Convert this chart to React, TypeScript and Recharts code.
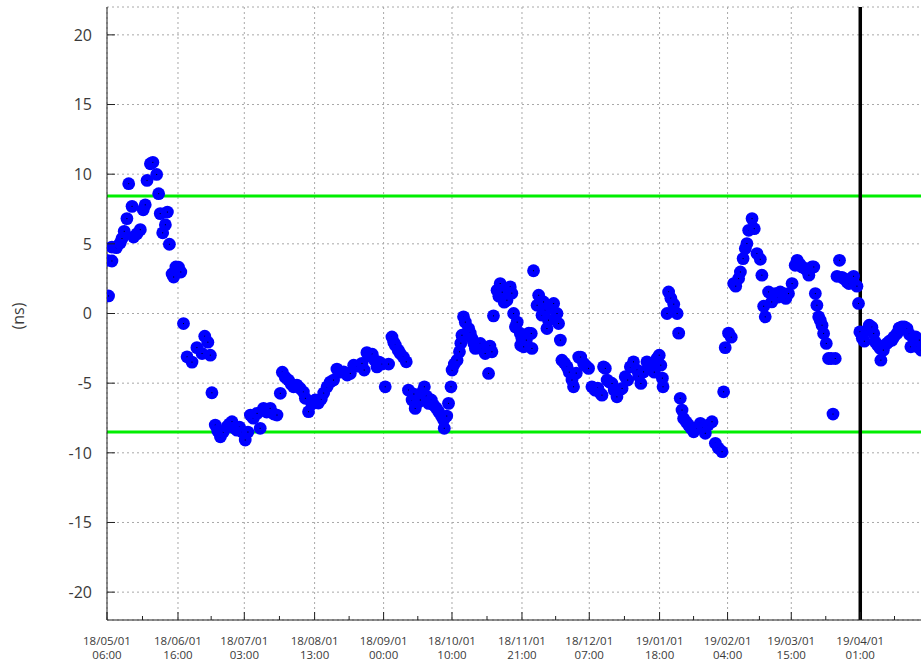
import React from 'react';
import { ScatterChart, Scatter, XAxis, YAxis, CartesianGrid, ReferenceLine } from 'recharts';

// x values are days since 18/05/01 06:00, y values are offsets in ns
const MAJOR_TICK_DAYS = [0, 31.74, 61.39, 92.82, 123.67, 154.25, 185.54, 215.63, 247.06, 277.46, 305.94, 336.79];
const MAJOR_TICK_DATE = ['18/05/01', '18/06/01', '18/07/01', '18/08/01', '18/09/01', '18/10/01', '18/11/01', '18/12/01', '19/01/01', '19/02/01', '19/03/01', '19/04/01'];
const MAJOR_TICK_TIME = ['06:00', '16:00', '03:00', '13:00', '00:00', '10:00', '21:00', '07:00', '18:00', '04:00', '15:00', '01:00'];
const MINOR_TICK_DAYS = [15.87, 46.57, 77.1, 108.25, 138.96, 169.9, 200.59, 231.35, 262.26, 291.7, 321.37, 352.1];
const TOP_TICK_DAYS = [11.45, 61.52, 111.46, 162.12, 212.19, 262.26, 312.96, 363.17];
const Y_TICKS = [-20, -15, -10, -5, 0, 5, 10, 15, 20];
const X_DOMAIN: [number, number] = [0, 366];
const Y_DOMAIN: [number, number] = [-22, 22];
const LIMIT_UPPER = 8.43;
const LIMIT_LOWER = -8.5;
const EVENT_DAY = 336.79;

const samplesMayJun: [number, number][] = [
  [0.0, 3.82], [0.7, 1.26], [2.2, 3.77], [2.2, 4.77], [4.2, 4.73], [5.9, 5.06], [6.7, 5.38], [7.7, 5.9],
  [8.9, 6.81], [9.7, 9.32], [11.2, 7.69], [11.9, 5.49], [13.4, 5.73], [14.9, 6.02], [16.2, 7.44], [17.1, 7.8],
  [17.9, 9.55], [19.4, 10.75], [20.5, 10.85], [22.2, 9.98], [23.1, 8.6], [23.8, 7.17], [24.9, 5.79], [26.1, 6.37],
  [27.0, 7.28], [27.9, 4.97], [29.1, 2.84], [29.8, 2.62], [30.8, 3.34], [32.0, 3.32], [33.0, 2.98], [34.2, -0.72],
];
const samplesJunSep: [number, number][] = [
  [35.8, -3.11], [38.0, -3.49], [40.2, -2.45], [42.5, -2.87], [43.7, -1.63], [45.1, -2.06], [46.2, -2.99], [46.9, -5.69],
  [48.4, -8.01], [49.5, -8.44], [50.7, -8.85], [52.0, -8.51], [53.7, -8.13], [54.7, -7.94], [55.9, -7.77], [56.9, -8.22],
  [58.1, -8.37], [59.2, -8.15], [60.5, -8.51], [61.8, -9.08], [63.0, -8.51], [64.1, -7.29], [65.4, -7.51], [67.1, -7.17],
  [68.5, -8.24], [70.0, -6.81], [71.4, -7.07], [73.0, -6.81], [74.6, -7.22], [76.0, -7.29], [77.5, -5.73], [78.4, -4.21],
  [79.7, -4.57], [81.1, -4.78], [82.4, -5.07], [83.4, -5.26], [84.9, -5.14], [86.4, -5.38], [87.8, -5.64], [88.7, -6.09],
  [90.1, -7.05], [91.6, -6.5], [93.1, -6.21], [94.5, -6.43], [95.8, -6.14], [96.9, -5.71], [98.4, -5.26], [99.8, -4.92],
  [101.3, -4.78], [102.8, -3.99], [104.3, -4.21], [105.8, -4.19], [107.4, -4.42], [108.8, -4.3], [110.3, -3.71], [111.9, -3.78],
  [114.0, -3.58], [115.0, -4.06], [116.2, -2.81], [117.5, -3.06], [118.6, -2.92], [119.7, -3.35], [120.7, -3.83], [121.7, -3.49],
  [123.0, -3.63], [124.4, -5.26], [125.9, -3.63], [127.4, -1.68], [128.2, -2.06], [128.9, -2.27], [130.2, -2.63], [131.1, -2.87],
  [132.5, -3.13], [133.8, -3.47],
];
const samplesSepNov: [number, number][] = [
  [134.8, -5.5], [136.4, -6.21], [137.2, -5.78], [137.8, -6.81], [139.2, -6.36], [140.1, -6.21], [141.0, -5.64], [141.9, -5.26],
  [142.8, -5.93], [143.8, -6.45], [145.0, -6.21], [146.0, -6.57], [147.2, -6.79], [148.3, -7.05], [149.5, -7.36], [150.5, -7.65],
  [150.8, -8.24], [151.9, -7.36], [152.7, -6.45], [153.8, -5.26], [154.3, -4.06], [155.3, -3.63], [156.5, -3.35], [157.6, -2.75],
  [158.2, -2.13], [158.7, -1.56], [159.4, -0.24], [160.2, -0.62], [161.7, -1.08], [162.4, -1.41], [163.2, -1.79], [164.0, -2.13],
  [164.7, -2.51], [165.8, -2.27], [166.9, -2.15], [167.8, -2.56], [169.1, -2.87], [170.6, -4.3], [171.2, -2.34], [172.1, -2.75],
  [172.8, -0.17], [174.4, 1.67], [175.2, 1.24], [175.8, 2.15], [176.7, 1.53], [177.6, 0.81], [178.8, 0.95], [180.3, 1.91],
  [181.0, 1.46], [181.8, 0.0], [182.6, -0.96], [183.4, -0.62], [184.8, -1.43], [185.5, -1.77], [185.0, -2.27], [186.3, -2.39],
  [187.5, -1.91], [188.6, -1.41], [189.7, -1.43], [190.0, -2.51], [190.7, 3.07], [192.3, 0.59], [193.0, 1.31], [194.5, -0.12],
  [195.2, 0.83], [196.0, 0.24], [196.7, -1.08], [197.4, -0.48], [198.6, 0.38], [199.7, 0.72], [201.2, 0.0], [201.9, -0.72],
  [202.7, -1.91],
];
const samplesNovJan: [number, number][] = [
  [203.4, -3.35], [204.5, -3.56], [205.7, -3.83], [206.7, -4.21], [207.9, -4.78], [208.6, -5.26], [209.8, -4.28], [210.9, -3.13],
  [211.8, -3.13], [213.1, -3.58], [214.3, -3.78], [215.3, -3.94], [216.8, -5.26], [218.3, -5.5], [219.4, -5.35], [220.6, -5.73],
  [221.3, -5.86], [222.0, -3.83], [222.8, -3.94], [223.6, -4.78], [224.6, -4.92], [225.8, -5.02], [226.8, -5.5], [228.0, -5.98],
  [229.1, -5.5], [230.3, -5.38], [231.7, -4.54], [232.8, -4.78], [234.0, -3.83], [235.4, -3.47], [237.0, -4.06], [237.8, -4.49],
  [238.7, -5.02], [239.9, -4.19], [241.4, -3.47], [242.5, -3.78], [243.7, -4.06], [244.7, -4.21], [245.9, -3.23], [246.9, -2.99],
  [247.6, -3.71], [248.3, -4.64], [248.6, -5.26], [250.4, 0.0], [251.1, 1.55], [252.1, 1.1], [253.4, 0.67], [254.9, 0.0],
  [255.6, -1.41],
];
const samplesJanFeb: [number, number][] = [
  [256.3, -6.09], [257.1, -6.93], [257.8, -7.53], [259.0, -7.79], [260.0, -8.01], [261.0, -8.22], [262.3, -8.49], [263.7, -8.22],
  [265.3, -7.88], [266.4, -8.22], [267.5, -8.6], [268.8, -8.01], [270.5, -7.77], [272.0, -9.32], [273.3, -9.66], [275.0, -9.92],
  [275.7, -5.62], [276.4, -2.45], [277.9, -1.41], [279.1, -1.7], [280.2, 2.15], [281.1, 1.96], [282.4, 2.51], [283.2, 2.98],
  [284.4, 3.94], [285.4, 4.66], [286.1, 5.02], [286.9, 5.97], [288.4, 6.81], [289.4, 6.09], [290.6, 4.3], [292.1, 3.89],
  [292.8, 2.75],
];
const samplesFebApr: [number, number][] = [
  [293.6, 0.52], [294.3, -0.24], [295.8, 1.55], [297.2, 0.83], [298.8, 1.43], [299.9, 1.17], [301.0, 1.55], [302.5, 1.43],
  [303.5, 1.08], [304.7, 1.43], [306.3, 2.15], [307.7, 3.46], [308.6, 3.82], [309.8, 3.53], [310.7, 3.34], [312.0, 3.23],
  [313.0, 3.1], [313.8, 2.75], [315.2, 3.34], [316.0, 3.34], [316.7, 1.43], [317.4, 0.59], [318.2, -0.24], [318.9, -0.48],
  [319.7, -0.84], [320.4, -1.43], [321.6, -2.15], [322.6, -3.23], [323.8, -3.23], [324.6, -7.22], [325.6, -3.23], [326.4, 2.67],
  [327.5, 3.82], [328.6, 2.6], [329.4, 2.51], [330.9, 2.27], [331.7, 2.15], [332.8, 2.53], [333.8, 2.67], [335.3, 1.96],
  [336.0, 0.72],
];
const samplesApr: [number, number][] = [
  [336.6, -1.32], [337.7, -1.77], [338.6, -1.99], [339.8, -1.2], [340.8, -0.84], [342.0, -0.98], [342.8, -1.43], [343.5, -2.04],
  [344.6, -2.27], [345.7, -2.51], [346.0, -3.35], [347.1, -2.63], [348.7, -2.15], [349.8, -1.99], [351.0, -1.91], [351.8, -1.68],
  [353.2, -1.43], [354.2, -1.05], [355.4, -0.96], [356.5, -0.96], [357.7, -1.08], [358.7, -1.48], [359.4, -2.39], [360.5, -1.77],
  [361.6, -1.68], [362.3, -2.39], [363.2, -1.91], [364.1, -2.63],
];

const ALL_SAMPLES = [
  ...samplesMayJun, ...samplesJunSep, ...samplesSepNov, ...samplesNovJan,
  ...samplesJanFeb, ...samplesFebApr, ...samplesApr,
].map(([d, v]) => ({ d, v }));

const BOTTOM_TICKS = [...MAJOR_TICK_DAYS, ...MINOR_TICK_DAYS].sort((a, b) => a - b);

const AXIS_COLOR = '#202020';
const TEXT_COLOR = '#3a3a3a';
const FONT = '"Open Sans", "Liberation Sans", sans-serif';

function BottomTick(props: any) {
  const { x, y, payload } = props;
  const idx = MAJOR_TICK_DAYS.indexOf(payload.value);
  if (idx < 0) {
    return <line x1={x} x2={x} y1={y} y2={y - 4} stroke={AXIS_COLOR} strokeWidth={1} />;
  }
  return (
    <g>
      <line x1={x} x2={x} y1={y} y2={y - 8} stroke={AXIS_COLOR} strokeWidth={1} />
      <text x={x} y={y + 25} textAnchor="middle" fontFamily={FONT} fontSize={11.5} fill={TEXT_COLOR}>
        <tspan x={x} dy={0}>{MAJOR_TICK_DATE[idx]}</tspan>
        <tspan x={x} dy={14}>{MAJOR_TICK_TIME[idx]}</tspan>
      </text>
    </g>
  );
}

function TopTick(props: any) {
  const { x, y } = props;
  return <line x1={x} x2={x} y1={y} y2={y + 8} stroke={AXIS_COLOR} strokeWidth={1} />;
}

function LeftTick(props: any) {
  const { x, y, payload } = props;
  return (
    <g>
      <line x1={x} x2={x + 8} y1={y} y2={y} stroke={AXIS_COLOR} strokeWidth={1} />
      <text x={x - 15} y={y} dy="0.36em" textAnchor="end" fontFamily={FONT} fontSize={16} fill={TEXT_COLOR}>
        {payload.value}
      </text>
    </g>
  );
}

function RightTick(props: any) {
  const { x, y } = props;
  return <line x1={x} x2={x - 8} y1={y} y2={y} stroke={AXIS_COLOR} strokeWidth={1} />;
}

function Dot(props: any) {
  const { cx, cy } = props;
  if (cx == null || cy == null) return null;
  return (
    <g>
      <circle cx={cx} cy={cy} r={6.4} fill="#0000ff" />
      <rect x={cx - 0.5} y={cy - 0.5} width={1} height={1} fill="#000" />
    </g>
  );
}

function UnitLabel() {
  return (
    <text
      transform="translate(18, 316) rotate(-90)"
      textAnchor="middle"
      dy="0.36em"
      fontFamily={FONT}
      fontSize={16}
      fill={TEXT_COLOR}
    >
      (ns)
    </text>
  );
}

export default function App() {
  return (
    <div style={{ position: 'absolute', left: 0, top: 0, width: 940, height: 662, background: '#fff' }}>
      <ScatterChart width={940} height={662} margin={{ top: 7, right: 14.4, bottom: 0, left: 47 }}>
        <CartesianGrid xAxisId="grid" yAxisId={0} stroke="#a8a8a8" strokeDasharray="2 3" strokeWidth={1} />
        <XAxis
          xAxisId="grid"
          type="number"
          dataKey="d"
          domain={X_DOMAIN}
          ticks={MAJOR_TICK_DAYS}
          allowDataOverflow
          hide
        />
        <XAxis
          xAxisId={0}
          type="number"
          dataKey="d"
          domain={X_DOMAIN}
          ticks={BOTTOM_TICKS}
          interval={0}
          height={42}
          tickSize={0}
          tickMargin={0}
          tickLine={false}
          axisLine={{ stroke: AXIS_COLOR, strokeWidth: 1 }}
          tick={<BottomTick />}
          allowDataOverflow
        />
        <XAxis
          xAxisId="top"
          orientation="top"
          type="number"
          domain={X_DOMAIN}
          ticks={TOP_TICK_DAYS}
          interval={0}
          height={0}
          tickSize={0}
          tickMargin={0}
          tickLine={false}
          axisLine={{ stroke: AXIS_COLOR, strokeWidth: 1 }}
          tick={<TopTick />}
          allowDataOverflow
        />
        <YAxis
          yAxisId={0}
          type="number"
          dataKey="v"
          domain={Y_DOMAIN}
          ticks={Y_TICKS}
          interval={0}
          width={60}
          tickSize={0}
          tickMargin={0}
          tickLine={false}
          axisLine={{ stroke: AXIS_COLOR, strokeWidth: 1 }}
          tick={<LeftTick />}
          label={<UnitLabel />}
          allowDataOverflow
        />
        <YAxis
          yAxisId="right"
          orientation="right"
          type="number"
          domain={Y_DOMAIN}
          ticks={Y_TICKS}
          interval={0}
          width={0}
          tickSize={0}
          tickMargin={0}
          tickLine={false}
          axisLine={{ stroke: AXIS_COLOR, strokeWidth: 1 }}
          tick={<RightTick />}
          allowDataOverflow
        />
        <ReferenceLine y={LIMIT_UPPER} stroke="#00ee00" strokeWidth={3} />
        <ReferenceLine y={LIMIT_LOWER} stroke="#00ee00" strokeWidth={3} />
        <Scatter data={ALL_SAMPLES} shape={<Dot />} isAnimationActive={false} />
        <ReferenceLine x={EVENT_DAY} stroke="#000" strokeWidth={3.5} />
      </ScatterChart>
    </div>
  );
}
